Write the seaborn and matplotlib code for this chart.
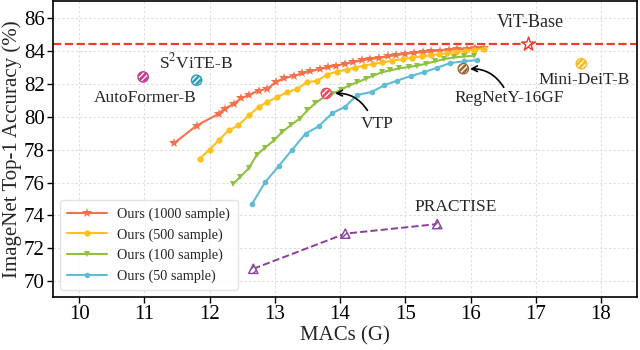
import numpy as np
import pandas as pd
import matplotlib
matplotlib.use('Agg')
import matplotlib.pyplot as plt
import seaborn as sns

# Ours curves (MACs in G, top-1 accuracy in %)
x_1000 = [11.46, 11.80, 12.14, 12.23, 12.37, 12.48, 12.60, 12.75, 12.88, 13.02, 13.14, 13.29,
          13.42, 13.54, 13.69, 13.81, 13.94, 14.08, 14.20, 14.33, 14.46, 14.60, 14.73, 14.86,
          15.00, 15.13, 15.27, 15.40, 15.53, 15.67, 15.80, 15.94, 16.07, 16.20]
y_1000 = [78.40, 79.45, 80.17, 80.47, 80.77, 81.10, 81.30, 81.57, 81.67, 82.11, 82.31, 82.47,
          82.61, 82.73, 82.88, 82.98, 83.08, 83.20, 83.30, 83.40, 83.48, 83.56, 83.64, 83.72,
          83.80, 83.86, 83.90, 83.95, 84.00, 84.05, 84.08, 84.10, 84.13, 84.16]

x_500 = [11.85, 12.00, 12.14, 12.29, 12.44, 12.60, 12.75, 12.88, 13.03, 13.19, 13.34, 13.49,
         13.65, 13.80, 13.95, 14.10, 14.23, 14.36, 14.50, 14.64, 14.80, 14.97, 15.10, 15.25,
         15.40, 15.52, 15.64, 15.78, 15.92, 16.05, 16.20]
y_500 = [77.45, 78.00, 78.56, 79.16, 79.46, 80.07, 80.57, 80.87, 81.17, 81.47, 81.67, 82.07,
         82.17, 82.54, 82.72, 82.85, 82.97, 83.08, 83.18, 83.28, 83.38, 83.48, 83.56, 83.64,
         83.72, 83.78, 83.84, 83.92, 83.98, 84.05, 84.12]

x_100 = [12.36, 12.47, 12.60, 12.72, 12.85, 12.99, 13.11, 13.24, 13.38, 13.50, 13.62, 13.75,
         13.88, 14.01, 14.13, 14.26, 14.39, 14.51, 14.64, 14.77, 14.91, 15.05, 15.18, 15.32,
         15.46, 15.60, 15.74, 15.90, 16.05]
y_100 = [75.90, 76.35, 76.86, 77.66, 78.12, 78.56, 79.06, 79.46, 79.87, 80.37, 80.81, 81.17,
         81.37, 81.61, 81.87, 82.07, 82.28, 82.48, 82.68, 82.80, 82.92, 83.00, 83.08, 83.20,
         83.35, 83.48, 83.58, 83.64, 83.68]

x_50 = [12.65, 12.85, 13.06, 13.26, 13.47, 13.67, 13.88, 14.08, 14.26, 14.49, 14.68, 14.87,
        15.08, 15.28, 15.48, 15.69, 15.90, 16.10]
y_50 = [74.70, 76.01, 77.00, 77.96, 78.96, 79.40, 80.20, 80.60, 81.30, 81.50, 81.90, 82.17,
        82.45, 82.68, 82.95, 83.24, 83.35, 83.42]

# PRACTISE
x_practise = [12.67, 14.08, 15.49]
y_practise = [70.77, 72.90, 73.48]

# single models
vit_base = (16.89, 84.38)
others = {
    'AutoFormer-B': (10.98, 82.40, '#C0388F'),
    'S2ViTE-B': (11.80, 82.20, '#2A9DB8'),
    'Mini-DeiT-B': (17.70, 83.20, '#F7B919'),
    'VTP': (13.79, 81.40, '#E8455E'),
    'RegNetY-16GF': (15.89, 82.90, '#9A6B33'),
}

sns.set_style('whitegrid')
plt.rcParams['font.family'] = ['Liberation Serif', 'DejaVu Serif']
plt.rcParams['mathtext.fontset'] = 'stix'

fig = plt.figure(figsize=(6.4, 3.5), dpi=100)
ax = fig.add_axes([0.083, 0.151, 0.912, 0.846])

series = [
    (x_1000, y_1000, 'Ours (1000 sample)', '#F4714B', '*', 7),
    (x_500, y_500, 'Ours (500 sample)', '#FCC11A', 'o', 4.5),
    (x_100, y_100, 'Ours (100 sample)', '#8DC13F', 'v', 5),
    (x_50, y_50, 'Ours (50 sample)', '#5FBCD6', 'o', 4),
]
for xs, ys, lab, col, mk, ms in series:
    df = pd.DataFrame({'MACs': xs, 'acc': ys})
    sns.lineplot(data=df, x='MACs', y='acc', ax=ax, color=col, marker=mk,
                 markersize=ms, markeredgewidth=0, linewidth=1.5, label=lab)

df_p = pd.DataFrame({'MACs': x_practise, 'acc': y_practise})
sns.lineplot(data=df_p, x='MACs', y='acc', ax=ax, color='#8B3F9C', linestyle='--',
             linewidth=1.4, legend=False)
ax.scatter(x_practise, y_practise, marker='^', s=45, facecolor='white',
           edgecolor='#8B3F9C', hatch='/////', linewidth=1.0, zorder=5)
ax.text(15.77, 74.5, 'PRACTISE', fontsize=12.5, ha='center', va='center')

# ViT-Base reference line and star
ax.axhline(vit_base[1], color='#F03A2E', linestyle='--', linewidth=1.6, zorder=2)
ax.scatter([vit_base[0]], [vit_base[1]], marker='*', s=110, facecolor='white',
           edgecolor='#F03A2E', hatch='////', linewidth=1.0, zorder=6)
ax.text(16.92, 85.67, 'ViT-Base', fontsize=13, ha='center', va='center')

for name, (mx, my, col) in others.items():
    ax.scatter([mx], [my], marker='o', s=55, facecolor=col, edgecolor='white',
               hatch='//////', linewidth=0.8, zorder=6)
    ax.scatter([mx], [my], marker='o', s=55, facecolor='none', edgecolor=col,
               linewidth=1.0, zorder=7)

ax.text(11.01, 81.15, 'AutoFormer-B', fontsize=12.5, ha='center', va='center')
ax.text(11.79, 83.26, 'S$^2$ViTE-B', fontsize=12.5, ha='center', va='center')
ax.text(17.75, 82.2, 'Mini-DeiT-B', fontsize=12.5, ha='center', va='center')

ax.text(14.57, 79.55, 'VTP', fontsize=12.5, ha='center', va='center')
ax.annotate('', xy=(13.88, 81.39), xytext=(14.42, 80.37),
            arrowprops=dict(arrowstyle='->', color='black', lw=1.2,
                            connectionstyle='arc3,rad=0.3', shrinkA=0, shrinkB=2))
ax.text(16.6, 81.15, 'RegNetY-16GF', fontsize=12.5, ha='center', va='center')
ax.annotate('', xy=(15.95, 82.88), xytext=(16.51, 81.77),
            arrowprops=dict(arrowstyle='->', color='black', lw=1.2,
                            connectionstyle='arc3,rad=0.3', shrinkA=0, shrinkB=2))

ax.set_xlim(9.6, 18.55)
ax.set_ylim(69.05, 87.0)
ax.set_xticks(range(10, 19))
ax.set_yticks(range(70, 87, 2))
ax.set_xlabel('MACs (G)', fontsize=15, labelpad=1)
ax.set_ylabel('ImageNet Top-1 Accuracy (%)', fontsize=15, labelpad=1)
ax.tick_params(axis='both', labelsize=15, length=4, width=1, direction='out',
               bottom=True, left=True, colors='black', pad=2)
ax.grid(True, linestyle=(0, (2, 2)), color='#DDDDDD', linewidth=0.8)
for sp in ax.spines.values():
    sp.set_color('black')
    sp.set_linewidth(1.2)

leg = ax.legend(loc='lower left', fontsize=10.3, frameon=True, borderpad=0.5,
                handlelength=2.8, handletextpad=0.7, labelspacing=0.5)
leg.get_frame().set_edgecolor('#DDDDDD')

fig.savefig('out.png', dpi=100)
